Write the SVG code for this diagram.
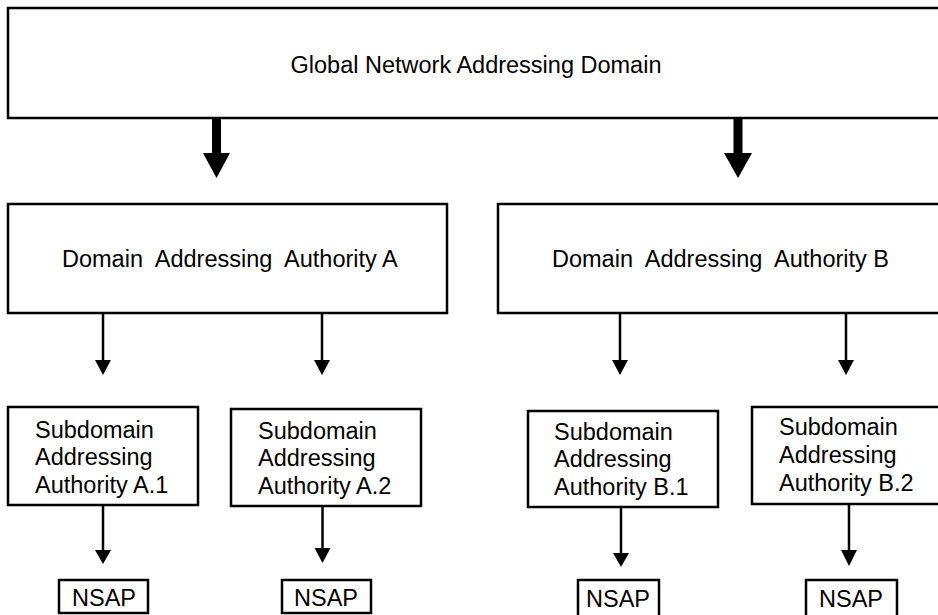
<svg xmlns="http://www.w3.org/2000/svg" width="938" height="615" viewBox="0 0 938 615">
  <style>
    .box { fill: #fff; stroke: #000; stroke-width: 2.5; }
    .lbl { font-family: "Liberation Sans", Arial, Helvetica, sans-serif; font-size: 23.5px; fill: #000; white-space: pre; }
    .mid { text-anchor: middle; }
    .shaft { stroke: #000; stroke-width: 2.5; fill: none; }
    .head { fill: #000; }
  </style>
  <rect width="938" height="615" fill="#fff"/>

  <!-- top level -->
  <g id="global-domain">
    <rect class="box" x="8" y="8" width="945" height="110"/>
    <text class="lbl mid" x="476" y="73">Global Network Addressing Domain</text>
  </g>

  <!-- second level -->
  <g id="authority-a">
    <rect class="box" x="8" y="204" width="439" height="109"/>
    <text class="lbl" x="62" y="267">Domain  Addressing  Authority A</text>
  </g>
  <g id="authority-b">
    <rect class="box" x="498" y="204" width="455" height="109"/>
    <text class="lbl" x="552" y="267">Domain  Addressing  Authority B</text>
  </g>

  <!-- third level -->
  <g id="sub-a1">
    <rect class="box" x="8" y="407" width="190" height="98"/>
    <text class="lbl" x="35" y="438">Subdomain</text>
    <text class="lbl" x="35" y="465">Addressing</text>
    <text class="lbl" x="35" y="493">Authority A.1</text>
  </g>
  <g id="sub-a2">
    <rect class="box" x="231" y="409" width="190" height="97"/>
    <text class="lbl" x="258" y="439">Subdomain</text>
    <text class="lbl" x="258" y="466">Addressing</text>
    <text class="lbl" x="258" y="494">Authority A.2</text>
  </g>
  <g id="sub-b1">
    <rect class="box" x="528" y="411" width="190" height="96"/>
    <text class="lbl" x="554" y="440">Subdomain</text>
    <text class="lbl" x="554" y="467">Addressing</text>
    <text class="lbl" x="554" y="495">Authority B.1</text>
  </g>
  <g id="sub-b2">
    <rect class="box" x="752" y="407" width="200" height="97"/>
    <text class="lbl" x="779" y="435">Subdomain</text>
    <text class="lbl" x="779" y="463">Addressing</text>
    <text class="lbl" x="779" y="491">Authority B.2</text>
  </g>

  <!-- leaf level -->
  <g id="nsap-a1">
    <rect class="box" x="59" y="580" width="89" height="33"/>
    <text class="lbl mid" x="104" y="606">NSAP</text>
  </g>
  <g id="nsap-a2">
    <rect class="box" x="282" y="580" width="89" height="33"/>
    <text class="lbl mid" x="326" y="606">NSAP</text>
  </g>
  <g id="nsap-b1">
    <rect class="box" x="578" y="580" width="81" height="38"/>
    <text class="lbl mid" x="618" y="607">NSAP</text>
  </g>
  <g id="nsap-b2">
    <rect class="box" x="806" y="580" width="91" height="38"/>
    <text class="lbl mid" x="851" y="607">NSAP</text>
  </g>

  <!-- connectors -->
  <g id="connectors">
    <!-- heavy arrows from the global domain -->
    <rect class="head" x="212" y="118" width="9" height="36"/>
    <polygon class="head" points="203,153 230,153 216.5,178"/>
    <rect class="head" x="733.5" y="118" width="9" height="36"/>
    <polygon class="head" points="724,153 752,153 738,178"/>

    <!-- authority A / B to subdomains -->
    <line class="shaft" x1="103" y1="313" x2="103" y2="361"/>
    <polygon class="head" points="95,360 111,360 103,375"/>
    <line class="shaft" x1="322" y1="313" x2="322" y2="361"/>
    <polygon class="head" points="314,360 330,360 322,375"/>
    <line class="shaft" x1="620" y1="313" x2="620" y2="361"/>
    <polygon class="head" points="612,360 628,360 620,375"/>
    <line class="shaft" x1="846" y1="313" x2="846" y2="361"/>
    <polygon class="head" points="838,360 854,360 846,375"/>

    <!-- subdomains to NSAPs -->
    <line class="shaft" x1="103" y1="505" x2="103" y2="551"/>
    <polygon class="head" points="95,550 111,550 103,564"/>
    <line class="shaft" x1="322.5" y1="506" x2="322.5" y2="549"/>
    <polygon class="head" points="314.5,548 330.5,548 322.5,563"/>
    <line class="shaft" x1="621" y1="507" x2="621" y2="554"/>
    <polygon class="head" points="613,553 629,553 621,567"/>
    <line class="shaft" x1="849" y1="504" x2="849" y2="551"/>
    <polygon class="head" points="841,550 857,550 849,566"/>
  </g>
</svg>
